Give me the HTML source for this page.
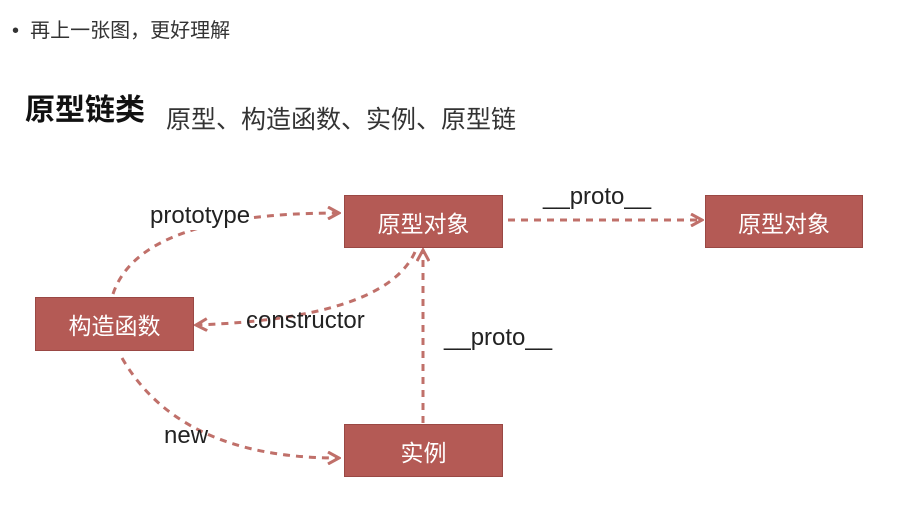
<!DOCTYPE html>
<html><head><meta charset="utf-8"><style>
body{margin:0;width:907px;height:520px;background:#fff;overflow:hidden;position:relative;font-family:"Liberation Sans","Noto Sans CJK SC",sans-serif}
.t{position:absolute;white-space:nowrap}
.box{position:absolute;background:#b45a55;border:1px solid #9a4844;color:#fff;font-size:23px;display:flex;align-items:center;justify-content:center;box-sizing:border-box}
.lbl{position:absolute;font-size:24px;color:#222;white-space:nowrap}
</style></head><body>
<div class="t" style="left:12px;top:14px;font-size:20px;color:#333">•&nbsp; 再上一张图，更好理解</div>
<div class="t" style="left:25px;top:85px;font-size:30px;font-weight:bold;color:#111">原型链类</div>
<div class="t" style="left:166px;top:100px;font-size:25px;color:#333">原型、构造函数、实例、原型链</div>
<svg width="907" height="520" style="position:absolute;left:0;top:0">
<defs><marker id="a" markerWidth="14" markerHeight="14" refX="11" refY="7" orient="auto" markerUnits="userSpaceOnUse"><path d="M1,1 L12,7 L1,13" fill="none" stroke="#c0706a" stroke-width="3"/></marker></defs>
<g fill="none" stroke="#c0706a" stroke-width="3" stroke-dasharray="7,6">
<path d="M113,294 Q140,213 338,213" marker-end="url(#a)"/>
<path d="M415,252 Q385,318 197,325" marker-end="url(#a)"/>
<path d="M122,358 Q180,458 338,458" marker-end="url(#a)"/>
<path d="M423,423 L423,251" marker-end="url(#a)"/>
<path d="M508,220 L701,220" marker-end="url(#a)"/>
</g>
</svg>
<div class="box" style="left:344px;top:195px;width:159px;height:53px">原型对象</div>
<div class="box" style="left:705px;top:195px;width:158px;height:53px">原型对象</div>
<div class="box" style="left:35px;top:297px;width:159px;height:54px">构造函数</div>
<div class="box" style="left:344px;top:424px;width:159px;height:53px">实例</div>
<div class="lbl" style="left:150px;top:202px;background:#fff">prototype</div>
<div class="lbl" style="left:246px;top:307px">constructor</div>
<div class="lbl" style="left:164px;top:422px">new</div>
<div class="lbl" style="left:444px;top:324px">__proto__</div>
<div class="lbl" style="left:543px;top:183px">__proto__</div>
</body></html>
